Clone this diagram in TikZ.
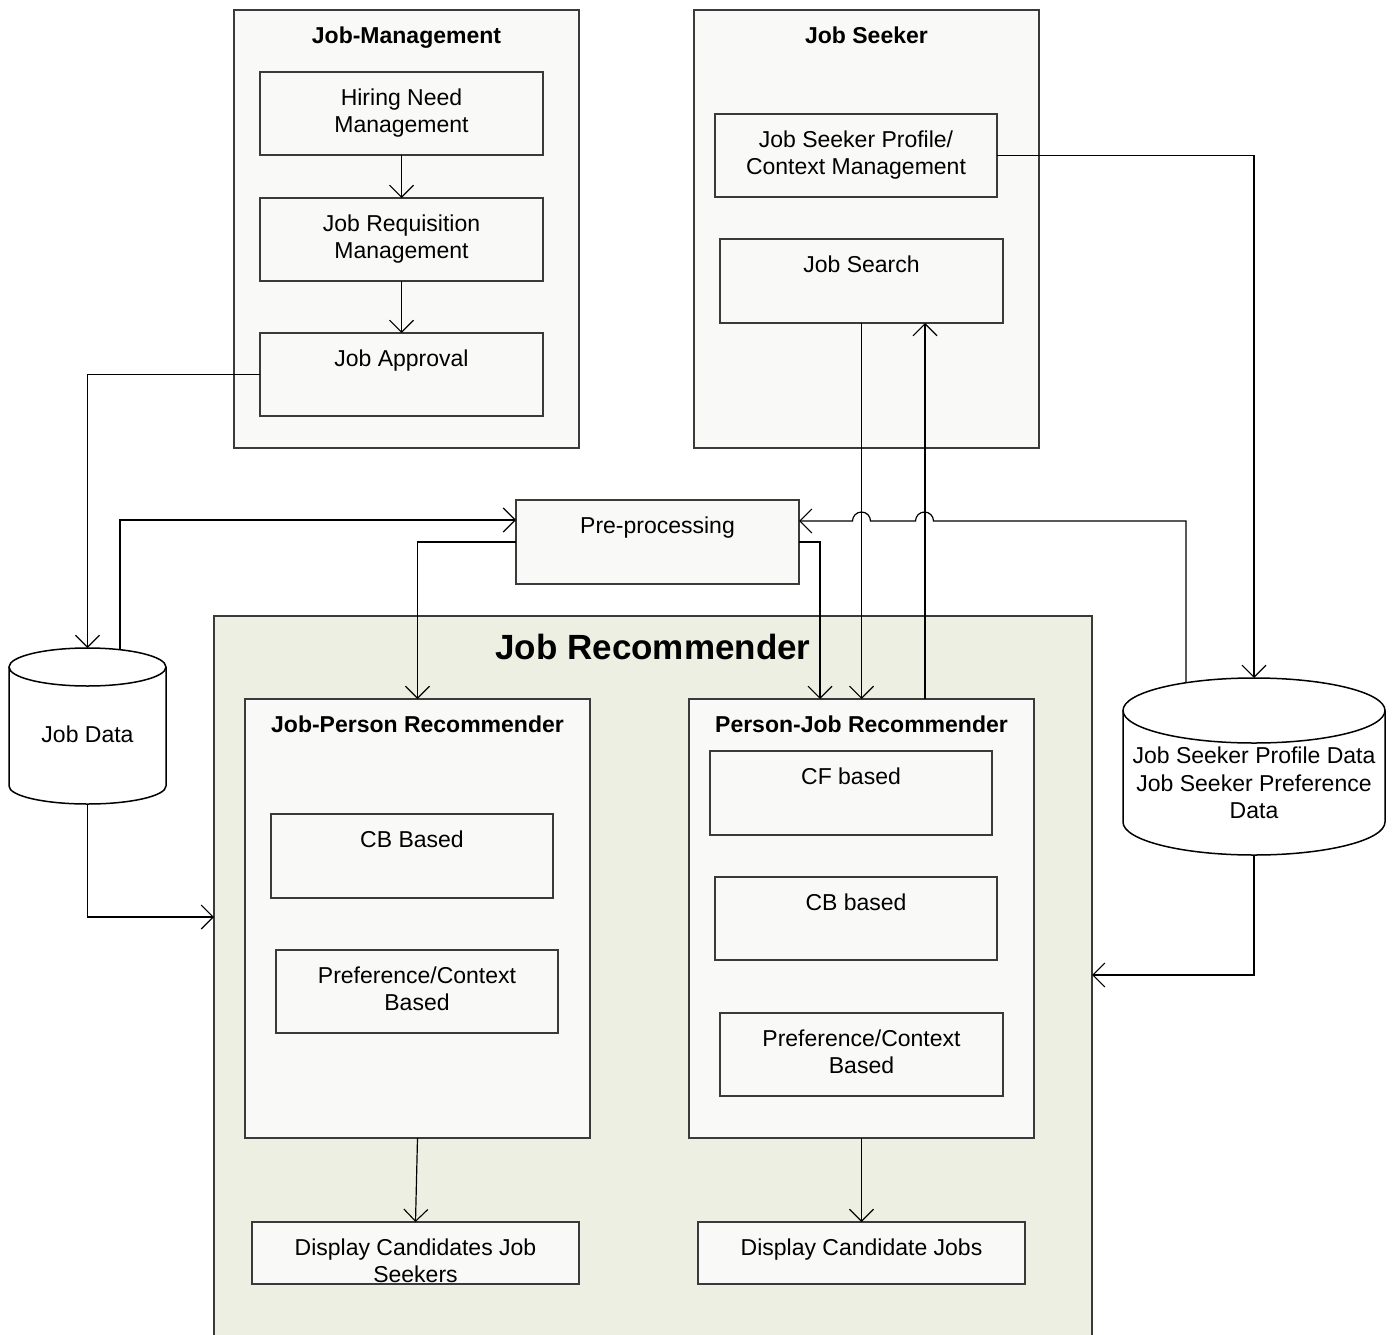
\documentclass[tikz,border=0pt]{standalone}
\usepackage{fontspec}
\setmainfont{Liberation Sans}
\usetikzlibrary{arrows.meta}

\definecolor{boxfill}{HTML}{F9F9F8}
\definecolor{recfill}{HTML}{EEEFE3}
\definecolor{edge}{HTML}{3A3A3A}

\tikzset{
  panel/.style={draw=edge, fill=boxfill, line width=1.4pt, inner sep=0pt, outer sep=0pt, anchor=north west},
  unit/.style={draw=edge, fill=boxfill, line width=1.3pt, inner sep=0pt, outer sep=0pt, anchor=north west},
  txt/.style={inner sep=0pt, anchor=north, align=center, font=\fontsize{23}{27.5}\selectfont},
  ttl/.style={inner sep=0pt, anchor=north, align=center, font=\fontsize{23}{27.5}\selectfont\bfseries},
  bigttl/.style={inner sep=0pt, anchor=north, font=\fontsize{35}{40}\selectfont\bfseries},
  holder/.style={inner sep=0pt, outer sep=0pt, anchor=north west},
  cyl/.style={draw=black, fill=white, line width=1.5pt},
  arr/.style={draw=black, line width=1.2pt, -{Straight Barb[length=12pt,width=24pt,line width=1.1pt]}},
}

\begin{document}
\begin{tikzpicture}[x=1pt, y=-1pt]
\useasboundingbox[fill=white] (0,0) rectangle (1397,1335);

% ---------- Job-Management column ----------
\node[panel, minimum width=345pt, minimum height=438pt] (jm) at (234,10) {};
\node[ttl] (jmT) at ([yshift=-16.5pt]jm.north) {Job-Management};
\node[unit, minimum width=283pt, minimum height=83pt] (hn) at (260,72) {};
\node[txt] (hnT) at ([yshift=-16.5pt]hn.north) {Hiring Need\\Management};
\node[unit, minimum width=283pt, minimum height=83pt] (jrq) at (260,198) {};
\node[txt] (jrqT) at ([yshift=-16.5pt]jrq.north) {Job Requisition\\Management};
\node[unit, minimum width=283pt, minimum height=83pt] (ja) at (260,333) {};
\node[txt] (jaT) at ([yshift=-16.5pt]ja.north) {Job Approval};

% ---------- Job Seeker column ----------
\node[panel, minimum width=345pt, minimum height=438pt] (jsk) at (694,10) {};
\node[ttl] (jskT) at ([yshift=-16.5pt]jsk.north) {Job Seeker};
\node[unit, minimum width=282pt, minimum height=83pt] (jsp) at (715,114) {};
\node[txt] (jspT) at ([yshift=-16.5pt]jsp.north) {Job Seeker Profile/\\Context Management};
\node[unit, minimum width=283pt, minimum height=84pt] (js) at (720,239) {};
\node[txt] (jsT) at ([yshift=-16.5pt]js.north) {Job Search};

% ---------- Pre-processing ----------
\node[unit, minimum width=283pt, minimum height=84pt] (pp) at (516,500) {};
\node[txt] (ppT) at ([yshift=-16.5pt]pp.north) {Pre-processing};

% ---------- Job Recommender ----------
\node[draw=edge, fill=recfill, line width=1.4pt, inner sep=0pt, outer sep=0pt, anchor=north west,
      minimum width=878pt, minimum height=740pt] (jr) at (214,616) {};
\node[bigttl] (jrT) at ([yshift=-17.5pt]jr.north) {Job Recommender};

\node[unit, minimum width=345pt, minimum height=439pt] (jpr) at (245,699) {};
\node[ttl] (jprT) at ([yshift=-16.5pt]jpr.north) {Job-Person Recommender};
\node[unit, minimum width=282pt, minimum height=84pt] (cbl) at (271,814) {};
\node[txt] (cblT) at ([yshift=-16.5pt]cbl.north) {CB Based};
\node[unit, minimum width=282pt, minimum height=83pt] (pcl) at (276,950) {};
\node[txt] (pclT) at ([yshift=-16.5pt]pcl.north) {Preference/Context\\Based};

\node[unit, minimum width=345pt, minimum height=439pt] (pjr) at (689,699) {};
\node[ttl] (pjrT) at ([yshift=-16.5pt]pjr.north) {Person-Job Recommender};
\node[unit, minimum width=282pt, minimum height=84pt] (cfr) at (710,751) {};
\node[txt] (cfrT) at ([yshift=-16.5pt]cfr.north) {CF based};
\node[unit, minimum width=282pt, minimum height=83pt] (cbr) at (715,877) {};
\node[txt] (cbrT) at ([yshift=-16.5pt]cbr.north) {CB based};
\node[unit, minimum width=283pt, minimum height=83pt] (pcr) at (720,1013) {};
\node[txt] (pcrT) at ([yshift=-16.5pt]pcr.north) {Preference/Context\\Based};

\node[unit, minimum width=327pt, minimum height=62pt] (dcs) at (252,1222) {};
\node[txt] (dcsT) at ([yshift=-16.5pt]dcs.north) {Display Candidates Job\\Seekers};
\node[unit, minimum width=327pt, minimum height=62pt] (dcj) at (698,1222) {};
\node[txt] (dcjT) at ([yshift=-16.5pt]dcj.north) {Display Candidate Jobs};

% ---------- data stores (cylinders) ----------
\node[holder, minimum width=157pt, minimum height=156pt] (jd) at (9,648) {};
\draw[cyl] (9,667) -- (9,786) arc[start angle=180, end angle=360, x radius=78.5pt, y radius=18pt]
      -- (166,667);
\draw[cyl] (87.5,667) ellipse [x radius=78.5pt, y radius=19pt];
\node[txt] (jdT) at (87.5,726) {Job Data};

\node[holder, minimum width=262pt, minimum height=177pt] (jsdb) at (1123,678) {};
\draw[cyl] (1123,710.5) -- (1123,822) arc[start angle=180, end angle=360, x radius=131pt, y radius=33pt]
      -- (1385,710.5);
\draw[cyl] (1254,710.5) ellipse [x radius=131pt, y radius=32.5pt];
\node[txt] (jsdbT) at (1254,747) {Job Seeker Profile Data\\Job Seeker Preference\\Data};

% points where connectors meet the frame and the store tops
\coordinate (jrL) at (214,917);
\coordinate (jrR) at (1092,975);
\coordinate (jdTop) at (120,649.7);
\coordinate (jsdbTop) at (1186,682.7);

% ---------- connectors ----------
\draw[arr] (hn.south) -- (jrq.north);
\draw[arr] (jrq.south) -- (ja.north);
\draw[arr] (ja.west) -| (jd.north);
\draw[arr] (jdTop) |- ([yshift=22pt]pp.west);
\draw[arr] (pp.west) -| (jpr.north);
\draw[arr] (pp.east) -| ([xshift=-41.5pt]pjr.north);
\draw[arr] (js.south) -- (pjr.north);
\draw[arr] ([xshift=63.5pt]pjr.north) -- ([xshift=63.5pt]js.south);
\draw[arr] (jsdbTop) -- (1186,521) -- (933.5,521)
      arc[start angle=0, end angle=180, radius=9pt] -- (870.5,521)
      arc[start angle=0, end angle=180, radius=9pt] -- ([yshift=21pt]pp.east);
\draw[arr] (jsp.east) -| (jsdb.north);
\draw[arr] (jd.south) |- (jrL);
\draw[arr] (jsdb.south) |- (jrR);
\draw[arr] (jpr.south) -- (dcs.north);
\draw[arr] (pjr.south) -- (dcj.north);

\end{tikzpicture}
\end{document}
